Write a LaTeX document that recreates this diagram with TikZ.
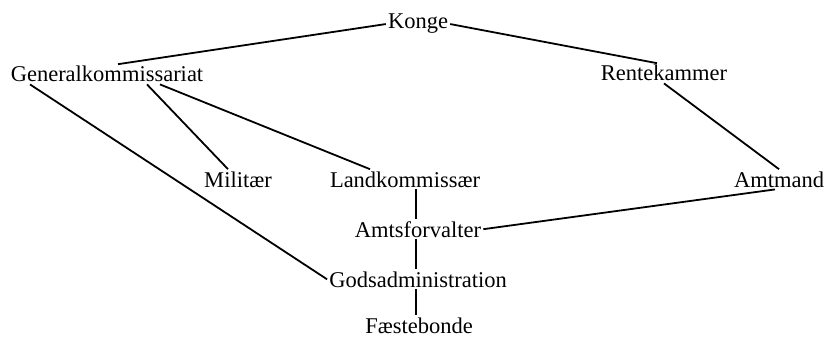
\documentclass[tikz,border=0pt]{standalone}
\usepackage{fontspec}
\setmainfont{Liberation Serif}
\usepackage{tikz}
\usetikzlibrary{positioning,calc}

\begin{document}
\begin{tikzpicture}[x=1pt, y=-1pt,
    office/.style={anchor=base, inner sep=2pt, font=\fontsize{22.5}{24}\selectfont},
    link/.style={line width=1.8pt}]
    \useasboundingbox (0,0) rectangle (829,339);

    % Top of the hierarchy
    \node[office] (konge) at (418,29) {Konge};
    \node[office] (genkom) at (107,82) {Generalkommissariat};
    \node[office] (rente) at (664,81) {Rentekammer};

    % Middle row
    \node[office] (militaer) at (238,187) {Militær};
    \node[office] (landkom) at (405,187) {Landkommissær};
    \node[office] (amtmand) at (779,187) {Amtmand};

    % Local level
    \node[office] (amtsforv) at (418,237) {Amtsforvalter};
    \node[office] (godsadm) at (418,287) {Godsadministration};
    \node[office] (faeste) at (419,333) {Fæstebonde};

    % Connections
    \draw[link] (konge.west) -- ([xshift=11pt]genkom.north);
    \draw[link] (konge.east) -- ([xshift=-7pt]rente.north);
    \draw[link] ([xshift=-77pt]genkom.south) -- (godsadm.west);
    \draw[link] ([xshift=40pt]genkom.south) -- ([xshift=-10pt]militaer.north);
    \draw[link] ([xshift=53pt]genkom.south) -- ([xshift=-35pt]landkom.north);
    \draw[link] (rente.south) -- (amtmand.north);
    \draw[link] (amtsforv.east) -- ([xshift=-4pt]amtmand.south);
    \draw[link] ([xshift=11pt]landkom.south) -- ([xshift=-2pt]amtsforv.north);
    \draw[link] ([xshift=-2pt]amtsforv.south) -- ([xshift=-2pt]godsadm.north);
    \draw[link] ([xshift=-2pt]godsadm.south) -- ([xshift=-3pt]faeste.north);
\end{tikzpicture}
\end{document}
